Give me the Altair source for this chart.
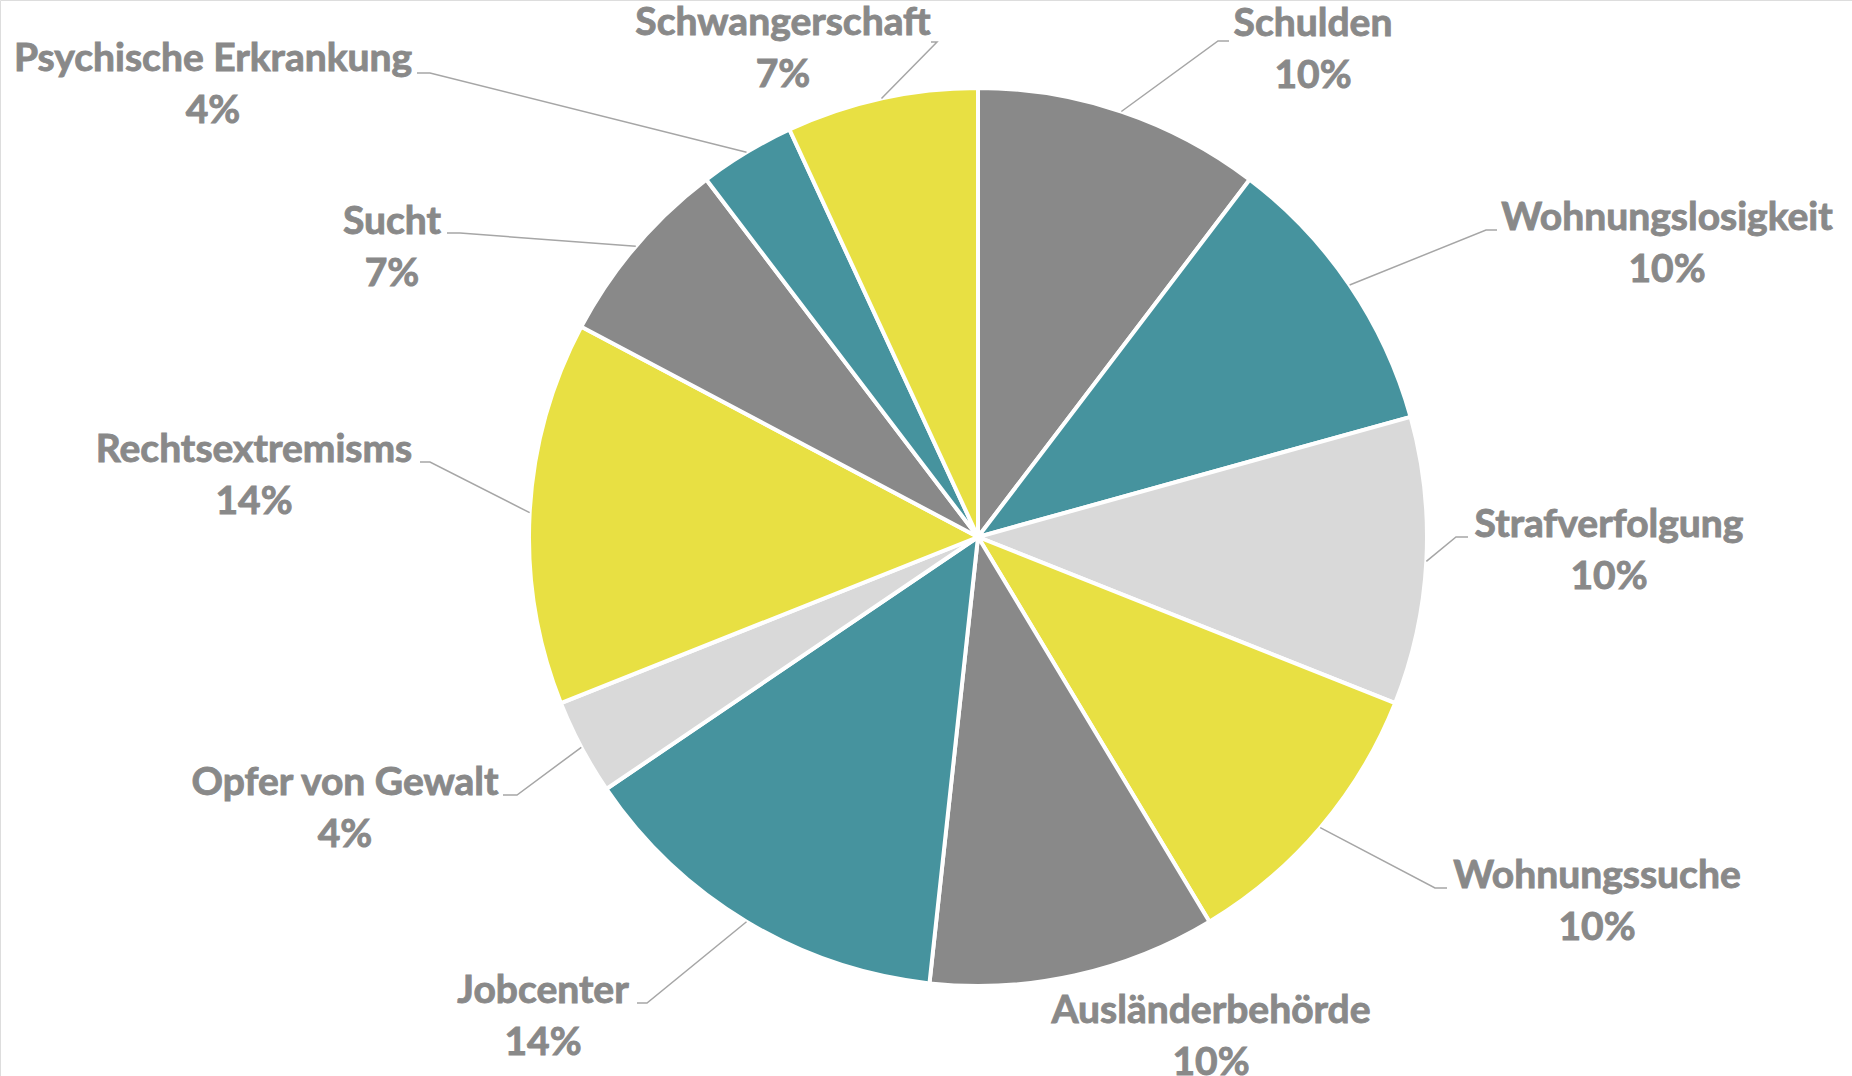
import altair as alt
import pandas as pd
import numpy as np

# ---- data ----
categories = ["Schulden", "Wohnungslosigkeit", "Strafverfolgung", "Wohnungssuche",
              "Ausländerbehörde", "Jobcenter", "Opfer von Gewalt", "Rechtsextremisms",
              "Sucht", "Psychische Erkrankung", "Schwangerschaft"]
counts = [3, 3, 3, 3, 3, 4, 1, 4, 2, 1, 2]
pct_labels = ["10%", "10%", "10%", "10%", "10%", "14%", "4%", "14%", "7%", "4%", "7%"]

# ---- styling / layout ----
slice_colors = ["#898989", "#46939E", "#D9D9D9", "#E8E043",
                "#898989", "#46939E", "#D9D9D9", "#E8E043",
                "#898989", "#46939E", "#E8E043"]
W, H = 1852, 1076
CX, CY = 978, 537          # pie centre (px)
R = 449                    # pie radius (px)
TEXT_COLOR = "#898989"
LINE_COLOR = "#A6A6A6"
FONT = "Lato"
FONT_SIZE = 39
LINE_GAP = 52

# label block placement relative to pie centre: (centre x, baseline y of first line)
label_xy = [(335, -501), (689, -307), (631, 0), (619, 351), (233, 486), (-435, 466),
            (-633, 258), (-724, -75), (-586, -303), (-765, -466), (-195, -502)]
# leader line: elbow point and horizontal end point (None = no leader)
leader = [((240, -496), (251, -496)),
          ((508, -307), (519, -307)),
          ((478, 0), (490, 0)),
          ((457, 351), (469, 351)),
          None,
          ((-331, 466), (-341, 466)),
          ((-461, 258), (-475, 258)),
          ((-548, -75), (-558, -75)),
          ((-518, -304), (-531, -304)),
          ((-548, -464), (-561, -464)),
          ((-41, -495), (-47, -495))]

total = sum(counts)
cum = np.cumsum([0] + counts)
mid_angles = [(cum[i] + counts[i] / 2) / total * 2 * np.pi for i in range(len(counts))]

pie_df = pd.DataFrame({"cat": categories, "value": counts, "idx": range(len(categories))})

lab_df = pd.DataFrame({
    "cat": categories,
    "pct": pct_labels,
    "x": [p[0] for p in label_xy],
    "y": [p[1] for p in label_xy],
})
lab_df["y2"] = lab_df["y"] + LINE_GAP

rows = []
for i, c in enumerate(categories):
    if leader[i] is None:
        continue
    a = mid_angles[i]
    ex, ey = R * np.sin(a), -R * np.cos(a)
    (bx, by), (hx, hy) = leader[i]
    rows += [{"cat": c, "k": 0, "x": ex, "y": ey},
             {"cat": c, "k": 1, "x": bx, "y": by},
             {"cat": c, "k": 2, "x": hx, "y": hy}]
line_df = pd.DataFrame(rows)

xs = alt.Scale(domain=[-CX, W - CX], nice=False, zero=False)
ys = alt.Scale(domain=[-CY, H - CY], nice=False, zero=False, reverse=True)

pie = alt.Chart(pie_df).mark_arc(radius=R, stroke="white", strokeWidth=4).encode(
    theta=alt.Theta("value:Q", stack=True),
    order=alt.Order("idx:Q"),
    color=alt.Color("cat:N", scale=alt.Scale(domain=categories, range=slice_colors), legend=None),
    x=alt.value(CX),
    y=alt.value(CY),
)

lines = alt.Chart(line_df).mark_line(color=LINE_COLOR, strokeWidth=1.5).encode(
    x=alt.X("x:Q", scale=xs, axis=None),
    y=alt.Y("y:Q", scale=ys, axis=None),
    detail="cat:N",
    order="k:Q",
)

text_style = dict(font=FONT, fontSize=FONT_SIZE, fontWeight="bold", color=TEXT_COLOR,
                  stroke=TEXT_COLOR, strokeWidth=0.9,
                  align="center", baseline="alphabetic")

names = alt.Chart(lab_df).mark_text(**text_style).encode(
    x=alt.X("x:Q", scale=xs, axis=None),
    y=alt.Y("y:Q", scale=ys, axis=None),
    text="cat:N",
)

pcts = alt.Chart(lab_df).mark_text(**text_style).encode(
    x=alt.X("x:Q", scale=xs, axis=None),
    y=alt.Y("y2:Q", scale=ys, axis=None),
    text="pct:N",
)

chart = alt.layer(pie, lines, names, pcts).properties(
    width=W, height=H, padding=0, autosize=alt.AutoSizeParams(type="none")
).configure_view(stroke=None).configure(background="white")

chart.save("out.html", embed_options={"renderer": "svg", "actions": False})
